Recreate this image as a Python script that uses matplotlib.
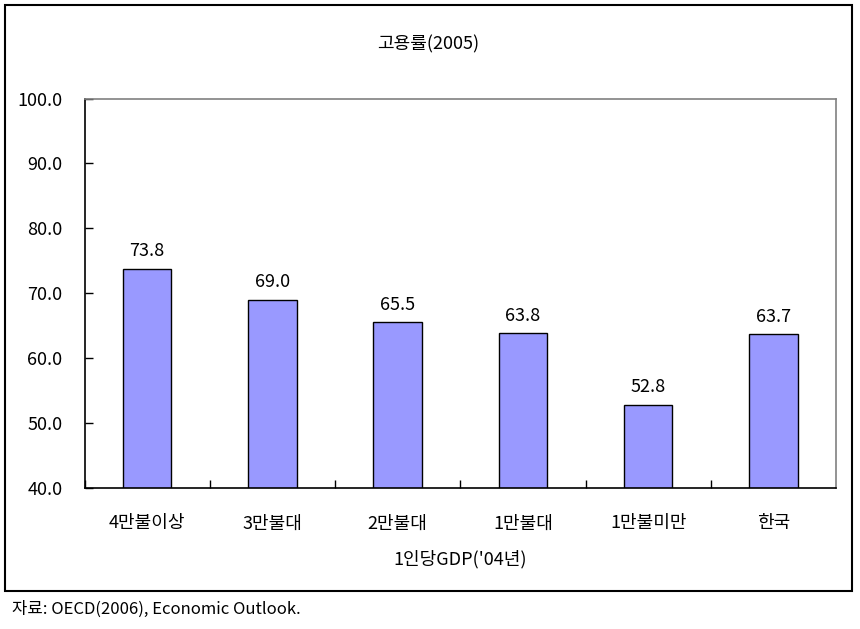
import matplotlib.pyplot as plt
from matplotlib.patches import Rectangle

plt.rcParams['font.family'] = ['Noto Sans CJK KR', 'DejaVu Sans']

categories = ["4만불이상", "3만불대", "2만불대", "1만불대", "1만불미만", "한국"]
values = [73.8, 69.0, 65.5, 63.8, 52.8, 63.7]
yticks = [40, 50, 60, 70, 80, 90, 100]

W, H = 860, 629
fig = plt.figure(figsize=(W / 100, H / 100), dpi=100)

# outer frame around chart
fig.patches.append(Rectangle((5 / W, 1 - 591 / H), 847 / W, 586 / H,
                             transform=fig.transFigure, fill=False,
                             edgecolor='black', linewidth=1.5))

ax = fig.add_axes([84.5 / W, 1 - 488 / H, (836 - 84.5) / W, (488 - 98.5) / H])
x = list(range(len(categories)))
ax.bar(x, values, width=0.386, bottom=0, color='#9999FF',
       edgecolor='black', linewidth=1.0)
for xi, v in zip(x, values):
    ax.text(xi, v + 1.3, f"{v:.1f}", ha='center', va='bottom', fontsize=13)

ax.set_xlim(-0.5, len(categories) - 0.5)
ax.set_ylim(40, 100)
ax.set_yticks(yticks)
ax.set_yticklabels([f"{t:.1f}" for t in yticks], fontsize=13)
ax.set_xticks(x)
ax.set_xticklabels(categories, fontsize=13)
ax.tick_params(axis='x', length=0, pad=19)
ax.tick_params(axis='y', direction='in', length=6, pad=16, width=1)
# category boundary ticks
ax.set_xticks([i + 0.5 for i in x[:-1]] + [-0.5], minor=True)
ax.tick_params(axis='x', which='minor', direction='in', length=6, width=1)

for s in ('top', 'right'):
    ax.spines[s].set_color('#808080')
    ax.spines[s].set_linewidth(1.2)
for s in ('left', 'bottom'):
    ax.spines[s].set_color('black')
    ax.spines[s].set_linewidth(1.2)

ax.set_xlabel("1인당GDP('04년)", fontsize=13, labelpad=13)
fig.text(428 / W, 1 - 44 / H, "고용률(2005)", ha='center', va='center', fontsize=13)
fig.text(12 / W, 1 - 609 / H, "자료: OECD(2006), Economic Outlook.",
         ha='left', va='center', fontsize=12)

fig.savefig('out.png', dpi=100)
